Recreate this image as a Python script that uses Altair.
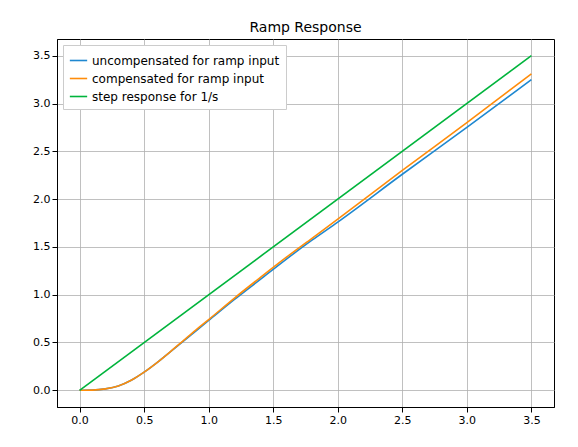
import altair as alt
import pandas as pd

t_curve = [0, 0.1, 0.2, 0.3, 0.4, 0.5, 0.6, 0.7, 0.8, 0.9, 1.0, 1.2, 1.4, 1.6, 1.8, 2.0, 2.5, 3.0, 3.5]
uncomp = [0, 0.002, 0.015, 0.045, 0.105, 0.19, 0.29, 0.40, 0.51, 0.62, 0.73, 0.95, 1.16, 1.37, 1.57, 1.76, 2.26, 2.75, 3.25]
comp = [0, 0.002, 0.015, 0.045, 0.105, 0.19, 0.29, 0.40, 0.515, 0.63, 0.74, 0.965, 1.18, 1.39, 1.59, 1.79, 2.30, 2.80, 3.31]
t_step = [0, 3.5]
step = [0, 3.5]

names = ["uncompensated for ramp input", "compensated for ramp input", "step response for 1/s"]
rows = []
for t, a, b in zip(t_curve, uncomp, comp):
    rows.append({"t": t, "y": a, "s": names[0]})
    rows.append({"t": t, "y": b, "s": names[1]})
for t, c in zip(t_step, step):
    rows.append({"t": t, "y": c, "s": names[2]})
df = pd.DataFrame(rows)

ticks_x = [0, 0.5, 1, 1.5, 2, 2.5, 3, 3.5]
ticks_y = [0, 0.5, 1, 1.5, 2, 2.5, 3, 3.5]

chart = alt.Chart(df).mark_line(strokeWidth=1.6, interpolate="monotone").encode(
    x=alt.X("t:Q", scale=alt.Scale(domain=[-0.175, 3.675], nice=False, zero=False),
            axis=alt.Axis(values=ticks_x, format=".1f", title=None, labelFlush=False)),
    y=alt.Y("y:Q", scale=alt.Scale(domain=[-0.175, 3.675], nice=False, zero=False),
            axis=alt.Axis(values=ticks_y, format=".1f", title=None)),
    color=alt.Color("s:N", sort=names,
                    scale=alt.Scale(domain=names, range=["#1f88d0", "#ff8c0a", "#00b43c"]),
                    legend=alt.Legend(title=None, orient="top-left", symbolType="stroke",
                                      symbolSize=300, symbolStrokeWidth=1.6, labelFontSize=12,
                                      fillColor="white", strokeColor="#cccccc", padding=6,
                                      offset=6, labelLimit=300)),
).properties(width=497, height=368, padding={"left": 24, "top": 13, "right": 5, "bottom": 5},
             title=alt.TitleParams("Ramp Response", fontSize=14, fontWeight="normal", font="DejaVu Sans")
).configure_axis(
    grid=True, gridColor="#b0b0b0", gridWidth=0.8, domainColor="black", tickColor="black",
    labelFont="DejaVu Sans", labelFontSize=11, labelColor="black"
).configure_legend(labelFont="DejaVu Sans").configure_view(stroke="black", strokeWidth=1)

chart.save("out.html", embed_options={"renderer": "svg", "actions": False})
